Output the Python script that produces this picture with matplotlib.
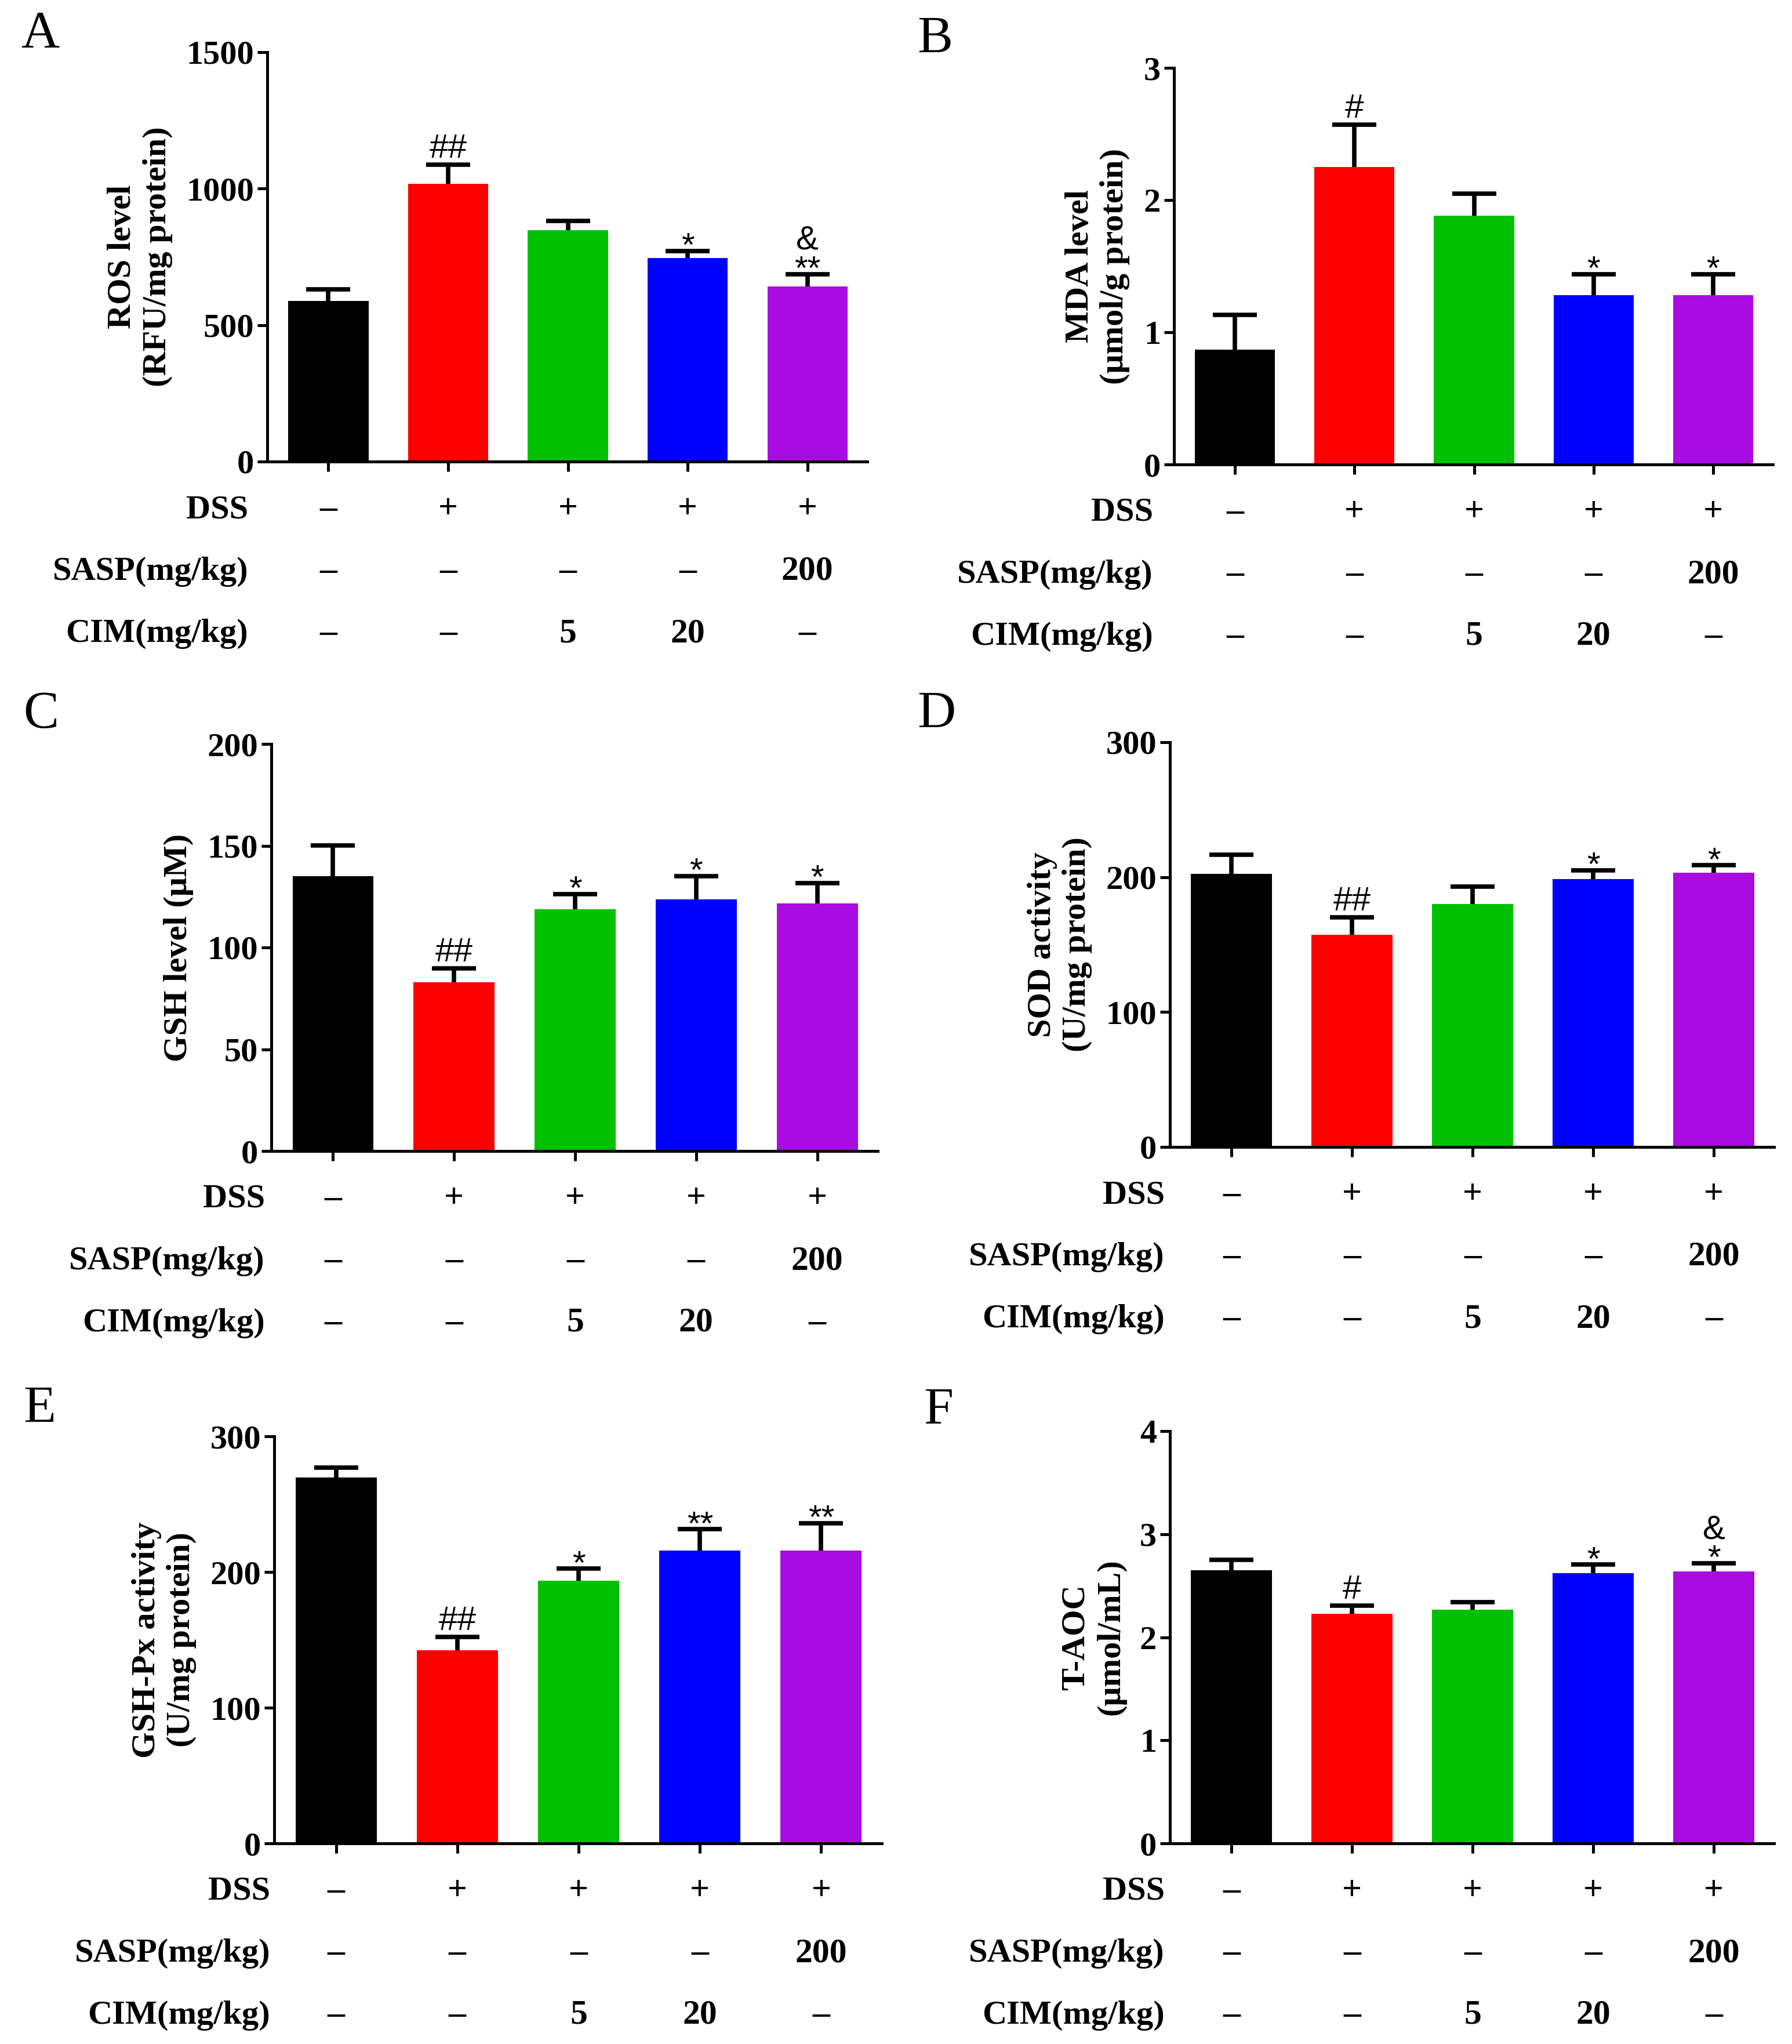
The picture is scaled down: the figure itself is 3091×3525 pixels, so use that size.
import numpy as np
import matplotlib
matplotlib.use("Agg")
import matplotlib.pyplot as plt

# groups: control, DSS, DSS+CIM 5, DSS+CIM 20, DSS+SASP 200
bar_colors = ["#000000", "#ff0000", "#00c000", "#0000ff", "#a90ce0"]
row_names = ["DSS", "SASP(mg/kg)", "CIM(mg/kg)"]
dss_row = ["–", "+", "+", "+", "+"]
sasp_row = ["–", "–", "–", "–", "200"]
cim_row = ["–", "–", "5", "20", "–"]

ros_mean = [589, 1018, 847, 746, 642]
ros_sem = [42, 69, 34, 25, 45]
ros_marks = ["", "##", "", "*", "&\n**"]

mda_mean = [0.87, 2.25, 1.88, 1.28, 1.28]
mda_sem = [0.26, 0.32, 0.17, 0.16, 0.16]
mda_marks = ["", "#", "", "*", "*"]

gsh_mean = [135.1, 83.0, 118.7, 123.7, 121.6]
gsh_sem = [15.0, 6.7, 7.5, 11.3, 10.0]
gsh_marks = ["", "##", "*", "*", "*"]

sod_mean = [202.5, 157.3, 180.0, 198.6, 203.4]
sod_sem = [14.2, 12.9, 13.0, 6.4, 5.3]
sod_marks = ["", "##", "", "*", "*"]

gpx_mean = [269.6, 142.5, 193.5, 216.0, 216.0]
gpx_sem = [7.3, 9.5, 8.9, 15.5, 20.0]
gpx_marks = ["", "##", "*", "**", "**"]

taoc_mean = [2.65, 2.23, 2.265, 2.62, 2.637]
taoc_sem = [0.10, 0.075, 0.075, 0.084, 0.08]
taoc_marks = ["", "#", "", "*", "&\n*"]

panels = [
    ("A", ros_mean, ros_sem, ros_marks, "ROS level\n(RFU/mg protein)", 1500, 500),
    ("B", mda_mean, mda_sem, mda_marks, "MDA level\n(μmol/g protein)", 3, 1),
    ("C", gsh_mean, gsh_sem, gsh_marks, "GSH level (μM)", 200, 50),
    ("D", sod_mean, sod_sem, sod_marks, "SOD activity\n(U/mg protein)", 300, 100),
    ("E", gpx_mean, gpx_sem, gpx_marks, "GSH-Px activity\n(U/mg protein)", 300, 100),
    ("F", taoc_mean, taoc_sem, taoc_marks, "T-AOC\n(μmol/mL)", 4, 1),
]

W, H = 3091, 3525
# axes boxes in pixels: left, top, right, bottom
boxes = [
    (461, 90, 1496, 796),
    (2025, 117, 3058, 801),
    (468, 1283, 1514, 1985),
    (2018, 1280, 3060, 1978),
    (473, 2477, 1521, 3179),
    (2018, 2468, 3060, 3179),
]
letter_pos = [(36, 18), (1582, 27), (40, 1192), (1582, 1192), (40, 2390), (1593, 2392)]
name_dx = [-33, -36, -11, -9, -7, -9]
row_dy = [83, 190, 297]

plt.rcParams["font.family"] = ["Liberation Serif", "DejaVu Serif"]
plt.rcParams["font.weight"] = "bold"

fig = plt.figure(figsize=(W / 100, H / 100), dpi=100)

for p, (letter, mean, sem, marks, ylab, ymax, ystep) in enumerate(panels):
    l, t, r, b = boxes[p]
    ax = fig.add_axes([l / W, 1 - b / H, (r - l) / W, (b - t) / H])
    x = np.arange(len(mean))
    mean = np.array(mean)
    top = mean + np.array(sem)

    ax.bar(x, mean, width=0.67, color=bar_colors, zorder=2)
    ax.vlines(x, mean, top, colors="black", linewidth=5.5, zorder=3)
    ax.plot(x, top, ls="none", marker="_", markersize=55, markeredgewidth=5.5,
            color="black", zorder=3)

    for i, m in enumerate(marks):
        if not m:
            continue
        off = -9 if m.endswith("*") else 12
        ax.annotate(m, (i, top[i]), xytext=(0, off), textcoords="offset pixels",
                    ha="center", va="baseline", fontsize=42, fontweight="normal",
                    family=["Liberation Sans", "DejaVu Sans"], linespacing=0.95)

    ax.set_xlim(-0.51, 4.5)
    ax.set_ylim(0, ymax)
    ax.set_yticks(np.arange(0, ymax + ystep / 2, ystep))
    ax.set_xticks(x)
    ax.set_xticklabels([])
    for s in ["top", "right"]:
        ax.spines[s].set_visible(False)
    for s in ["left", "bottom"]:
        ax.spines[s].set_linewidth(3.6)
    ax.tick_params(axis="y", length=12.5, width=3.6, pad=4, labelsize=42)
    ax.tick_params(axis="x", length=12.5, width=3.6)
    ax.set_ylabel(ylab, fontsize=42, fontweight="bold", labelpad=17)

    for k, row in enumerate([dss_row, sasp_row, cim_row]):
        ax.annotate(row_names[k], (0, 0), xycoords="axes fraction",
                    xytext=(name_dx[p], -row_dy[k]), textcoords="offset pixels",
                    ha="right", va="center", fontsize=42)
        for i, v in enumerate(row):
            ax.annotate(v, (i, 0), xycoords=("data", "axes fraction"),
                        xytext=(0, -row_dy[k]), textcoords="offset pixels",
                        ha="center", va="center", fontsize=43)

    lx, ly = letter_pos[p]
    fig.text(lx / W, 1 - ly / H, letter, ha="left", va="top", fontsize=66,
             fontweight="normal")

fig.savefig("out.png", dpi=100)
